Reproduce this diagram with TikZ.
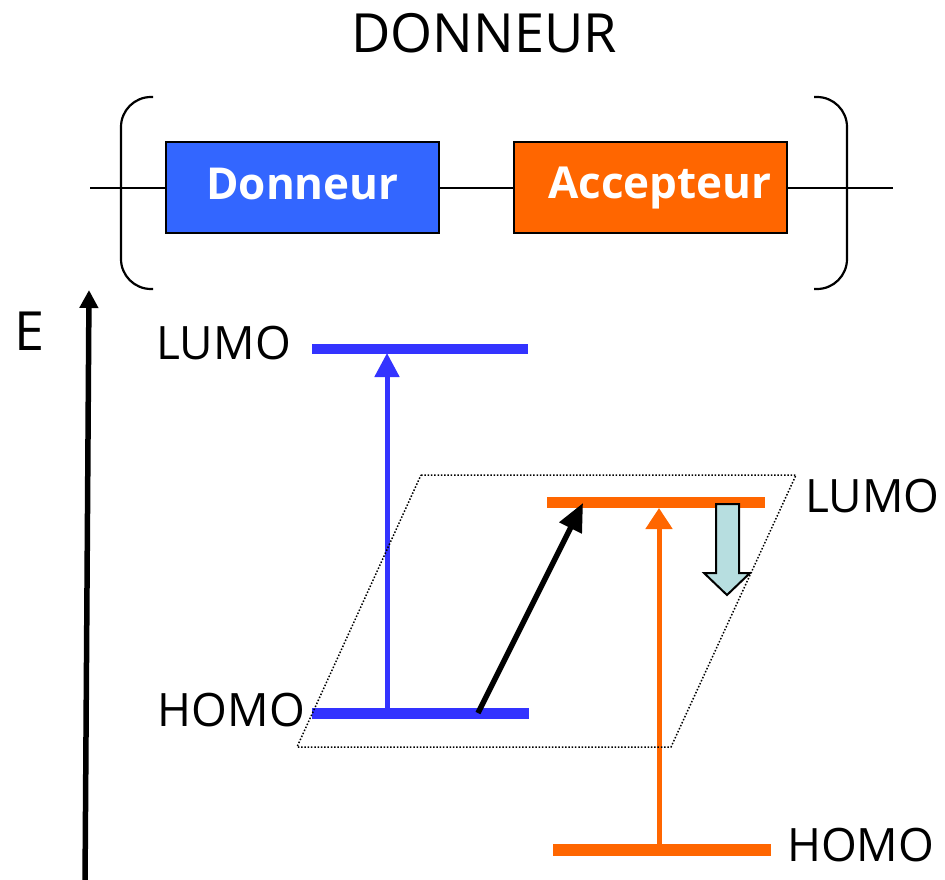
\documentclass[tikz,border=0pt]{standalone}
\usepackage{fontspec}
\setmainfont{Open Sans}
\usetikzlibrary{arrows.meta}
\definecolor{boxblue}{HTML}{3366FF}
\definecolor{barblue}{HTML}{3333FF}
\definecolor{orng}{HTML}{FF6600}
\definecolor{lightcyan}{HTML}{B7DEE0}
\begin{document}
\begin{tikzpicture}[x=1pt,y=-1pt,
  lbl/.style={inner sep=0pt, font=\fontsize{46}{48}\selectfont},
  box/.style={draw=black, line width=2pt, minimum width=273pt, minimum height=91pt, inner sep=0pt},
  boxtext/.style={inner sep=0pt, text=white, font=\fontsize{44}{46}\selectfont\bfseries, anchor=base},
  bar/.style={line width=11pt},
  wire/.style={line width=2pt},
  brk/.style={line width=2.2pt, rounded corners=30pt},
  ]
\useasboundingbox (0,0) rectangle (945,880);

% title
\node[lbl, font=\fontsize{54}{56}\selectfont] (title) at (484,33) {DONNEUR};

% molecule scheme
\node[box, fill=boxblue] (don) at (302.5,187.5) {};
\node[box, fill=orng] (acc) at (650.5,187.5) {};
\node[boxtext] (dontxt) at (302.5,199) {Donneur};
\node[boxtext] (acctxt) at (660,198) {Accepteur};
\coordinate (wl) at (90,187.5);
\coordinate (wr) at (893,187.5);
\draw[wire] (wl) -- (don.west);
\draw[wire] (don.east) -- (acc.west);
\draw[wire] (acc.east) -- (wr);
\draw[brk] (153,97) -- (121,97) -- (121,289) -- (153,289);
\draw[brk] (814,97) -- (847,97) -- (847,289) -- (814,289);

% energy axis
\coordinate (ax0) at (85,886);
\coordinate (ax1) at (89,290);
\draw[line width=5.5pt, -{Triangle[width=18pt,length=18pt]}] (ax0) -- (ax1);
\node[lbl, font=\fontsize{54}{56}\selectfont] (E) at (30,331) {E};

% donor levels
\coordinate (dL1) at (312,349);  \coordinate (dL2) at (528,349);
\coordinate (dH1) at (312,713.5);\coordinate (dH2) at (529,713.5);
\draw[bar, line width=10pt, barblue] (dL1) -- (dL2);
\draw[bar, barblue] (dH1) -- (dH2);
\coordinate (dA0) at (387,713);
\coordinate (dA1) at (387,353);
\draw[line width=5pt, barblue, -{Triangle[width=24pt,length=24pt]}] (dA0) -- (dA1);
\node[lbl, anchor=east] (dLumo) at (291,343) {LUMO};
\node[lbl, anchor=east] (dHomo) at (305,710) {HOMO};

% acceptor levels
\coordinate (aL1) at (547,502.5); \coordinate (aL2) at (765,502.5);
\coordinate (aH1) at (553,850);   \coordinate (aH2) at (771,850);
\draw[bar, orng] (aL1) -- (aL2);
\draw[bar, line width=12pt, orng] (aH1) -- (aH2);
\coordinate (aA0) at (659,850);
\coordinate (aA1) at (659,508);
\draw[line width=5pt, orng, -{Triangle[width=26pt,length=21pt]}] (aA0) -- (aA1);
\node[lbl, anchor=west] (aLumo) at (805,496) {LUMO};
\node[lbl, anchor=west] (aHomo) at (787,845) {HOMO};

% charge transfer arrow
\coordinate (ct0) at (478,713);
\coordinate (ct1) at (583,503);
\draw[line width=5.5pt, -{Triangle[width=24pt,length=28pt]}] (ct0) -- (ct1);

% dotted parallelogram
\draw[line width=1.5pt, dash pattern=on 1.5pt off 1.8pt] (421,475) -- (796,475) -- (671,747) -- (297,747) -- cycle;

% relaxation block arrow
\draw[line width=2pt, fill=lightcyan] (716,504) -- (739,504) -- (739,573) -- (750,573) -- (727,595) -- (704,573) -- (716,573) -- cycle;
\end{tikzpicture}
\end{document}
